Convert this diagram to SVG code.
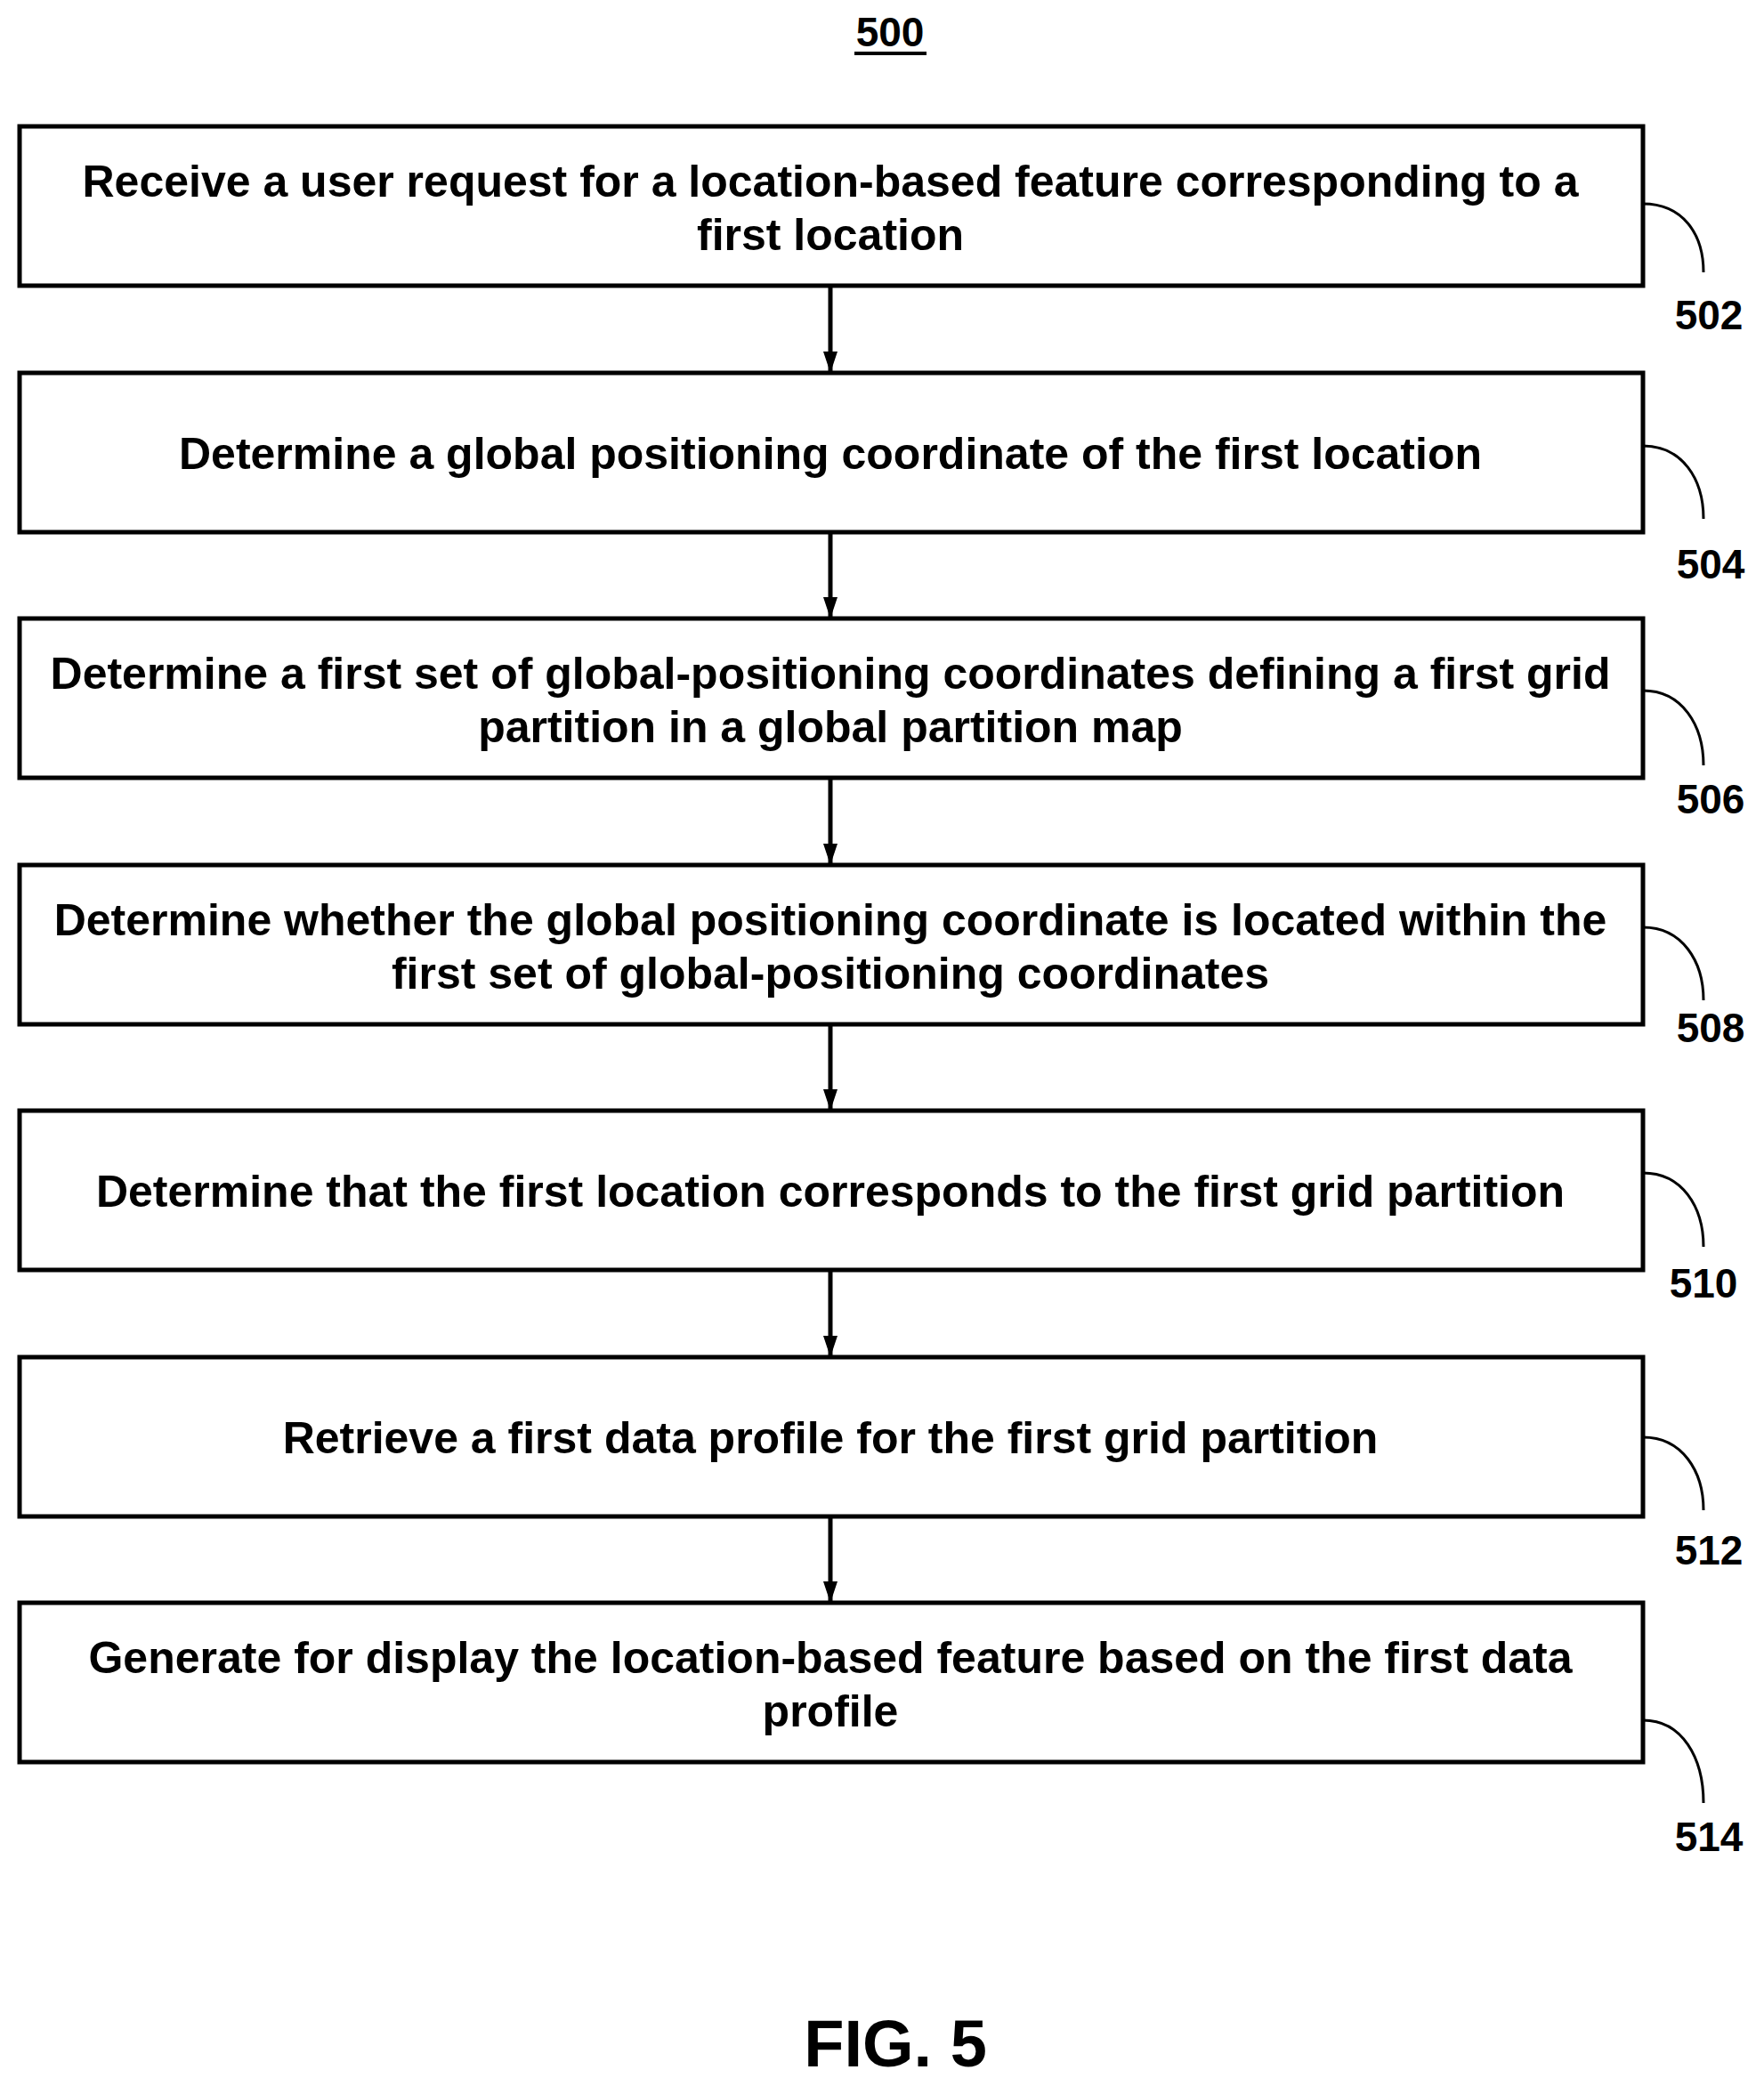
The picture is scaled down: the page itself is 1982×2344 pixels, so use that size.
<svg xmlns="http://www.w3.org/2000/svg" width="1982" height="2344" viewBox="0 0 1982 2344">
<style>
.b{fill:#fff;stroke:#000;stroke-width:5}
.t{font-family:"Liberation Sans",Arial,sans-serif;font-weight:bold;font-size:50px;text-anchor:middle}
.l{font-family:"Liberation Sans",Arial,sans-serif;font-weight:bold;font-size:46px;text-anchor:middle}
.c{fill:none;stroke:#000;stroke-width:3}
.a{stroke:#000;stroke-width:5;marker-end:url(#ah)}
</style>
<defs><marker id="ah" markerWidth="24" markerHeight="16" refX="22" refY="8" orient="auto" markerUnits="userSpaceOnUse"><path d="M0,0 L24,8 L0,16 Z" fill="#000"/></marker></defs>
<rect width="1982" height="2344" fill="#fff"/>
<text x="1000" y="52" class="l">500</text>
<line x1="960" y1="60" x2="1041" y2="60" stroke="#000" stroke-width="4"/>
<g id="n502"><rect class="b" x="22" y="142" width="1824" height="179"/><text class="t" x="933" y="221">Receive a user request for a location-based feature corresponding to a</text><text class="t" x="933" y="281">first location</text><path class="c" d="M1846,229 C1890,229 1914,262 1914,306"/><text class="l" x="1920" y="370">502</text></g>
<g id="n504"><rect class="b" x="22" y="419" width="1824" height="179"/><text class="t" x="933" y="527">Determine a global positioning coordinate of the first location</text><path class="c" d="M1846,501 C1890,501 1914,538 1914,583"/><text class="l" x="1922" y="650">504</text></g>
<g id="n506"><rect class="b" x="22" y="695" width="1824" height="179"/><text class="t" x="933" y="774">Determine a first set of global-positioning coordinates defining a first grid</text><text class="t" x="933" y="834">partition in a global partition map</text><path class="c" d="M1846,776 C1890,776 1914,815 1914,860"/><text class="l" x="1922" y="914">506</text></g>
<g id="n508"><rect class="b" x="22" y="972" width="1824" height="179"/><text class="t" x="933" y="1051">Determine whether the global positioning coordinate is located within the</text><text class="t" x="933" y="1111">first set of global-positioning coordinates</text><path class="c" d="M1846,1042 C1890,1042 1914,1080 1914,1124"/><text class="l" x="1922" y="1171">508</text></g>
<g id="n510"><rect class="b" x="22" y="1248" width="1824" height="179"/><text class="t" x="933" y="1356">Determine that the first location corresponds to the first grid partition</text><path class="c" d="M1846,1318 C1890,1318 1914,1356 1914,1401"/><text class="l" x="1914" y="1458">510</text></g>
<g id="n512"><rect class="b" x="22" y="1525" width="1824" height="179"/><text class="t" x="933" y="1633">Retrieve a first data profile for the first grid partition</text><path class="c" d="M1846,1615 C1890,1615 1914,1653 1914,1697"/><text class="l" x="1920" y="1758">512</text></g>
<g id="n514"><rect class="b" x="22" y="1801" width="1824" height="179"/><text class="t" x="933" y="1880">Generate for display the location-based feature based on the first data</text><text class="t" x="933" y="1940">profile</text><path class="c" d="M1846,1933 C1890,1933 1914,1975 1914,2026"/><text class="l" x="1920" y="2080">514</text></g>
<g id="connectors">
<line class="a" x1="933" y1="321" x2="933" y2="417"/>
<line class="a" x1="933" y1="598" x2="933" y2="693"/>
<line class="a" x1="933" y1="874" x2="933" y2="970"/>
<line class="a" x1="933" y1="1151" x2="933" y2="1246"/>
<line class="a" x1="933" y1="1427" x2="933" y2="1523"/>
<line class="a" x1="933" y1="1704" x2="933" y2="1799"/>
</g>
<text x="1006" y="2322" style="font-family:'Liberation Sans',Arial,sans-serif;font-weight:bold;font-size:74px;text-anchor:middle">FIG. 5</text>
</svg>
